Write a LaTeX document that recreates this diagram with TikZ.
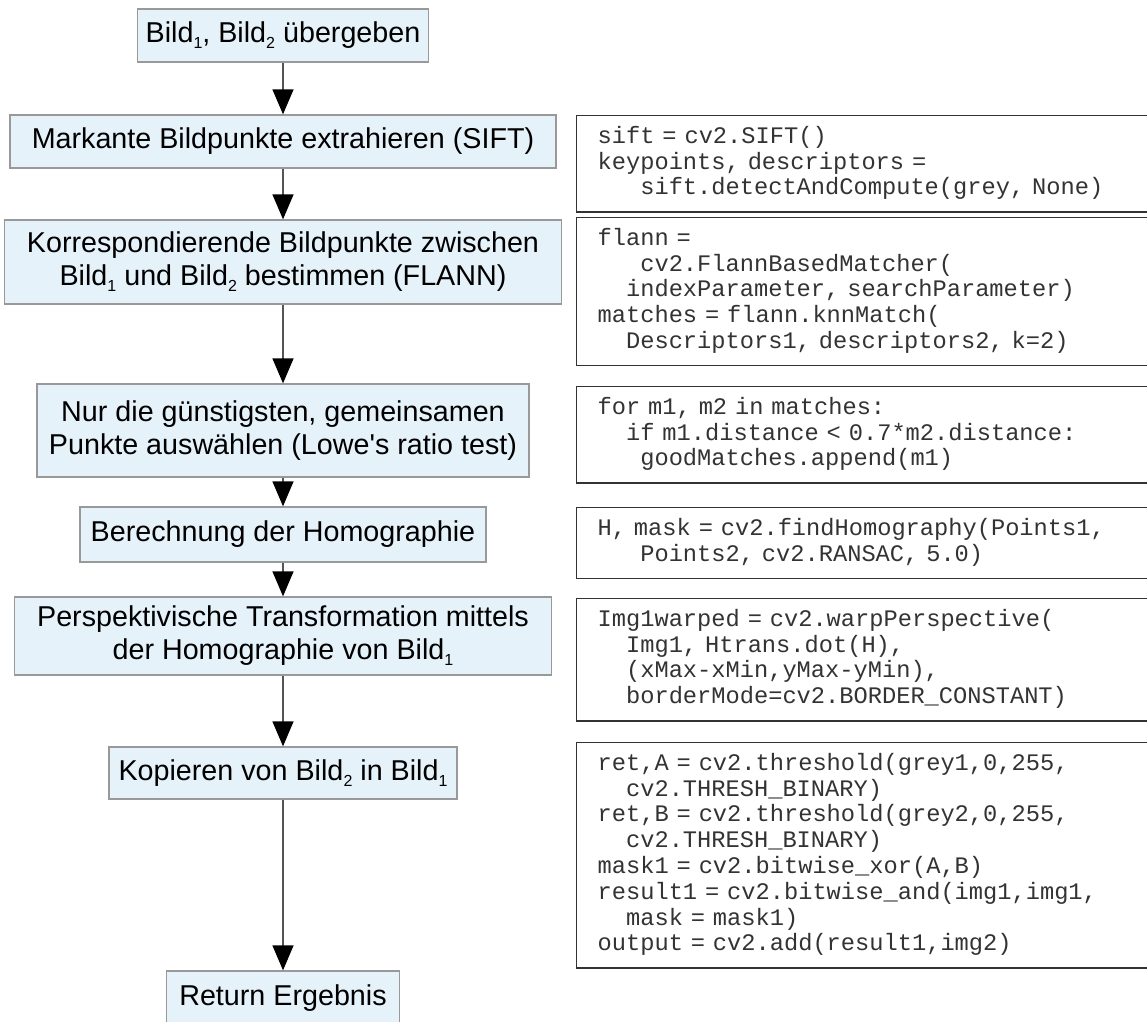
\documentclass[tikz,border=0pt]{standalone}
\usepackage{fontspec}
\setmainfont{Liberation Sans}[Ligatures=TeXOff]
\newfontfamily\codefont{Liberation Mono}[Ligatures=TeXOff]
\usetikzlibrary{arrows.meta}
\definecolor{boxfill}{HTML}{E6F2FA}
\definecolor{boxdraw}{HTML}{999999}
\definecolor{codedraw}{HTML}{333333}
\definecolor{arrowline}{HTML}{555555}
\newcommand\idx[1]{\raisebox{-6pt}{\fontsize{16}{16}\selectfont #1}}
\newcommand\cind[1]{\hspace*{#1}}
\newcommand\codesetup{\codefont\fontsize{23.7}{25.8}\selectfont
  \fontdimen2\font=0.6em\fontdimen3\font=0pt\fontdimen4\font=0pt\fontdimen7\font=0pt}
\tikzset{
  stepbox/.style={draw=boxdraw, fill=boxfill, line width=1.3pt, align=center,
    inner sep=0pt, font=\fontsize{28.7}{33}\selectfont},
  codebox/.style={draw=codedraw, fill=white, line width=1.3pt, anchor=north west,
    text width=560pt, inner xsep=21pt, inner ysep=9.5pt, align=left,
    font=\codesetup, text=black!80,
    execute at begin node=\strut, execute at end node=\strut},
  flow/.style={draw=arrowline, line width=1.4pt,
    -{Triangle[width=21pt,length=25pt,fill=black,color=black]}}
}
\begin{document}
\begin{tikzpicture}[x=1pt,y=-1pt]
\useasboundingbox (0,0) rectangle (1147,1021);
% left steps
\node[stepbox, minimum width=291pt, minimum height=53pt] (b1) at (283,35.5) {Bild\idx{1}, Bild\idx{2} übergeben};
\node[stepbox, minimum width=546pt, minimum height=53pt] (b2) at (283,141.5) {Markante Bildpunkte extrahieren (SIFT)};
\node[stepbox, minimum width=557pt, minimum height=84pt] (b3) at (283,262) {Korrespondierende Bildpunkte zwischen\\Bild\idx{1} und Bild\idx{2} bestimmen (FLANN)};
\node[stepbox, minimum width=492pt, minimum height=93pt] (b4) at (283,430.5) {Nur die günstigsten, gemeinsamen\\Punkte auswählen (Lowe's ratio test)};
\node[stepbox, minimum width=406pt, minimum height=55pt] (b5) at (283,534.5) {Berechnung der Homographie};
\node[stepbox, minimum width=537pt, minimum height=78pt] (b6) at (283,636) {Perspektivische Transformation mittels\\der Homographie von Bild\idx{1}};
\node[stepbox, minimum width=348pt, minimum height=52pt] (b7) at (283,773) {Kopieren von Bild\idx{2} in Bild\idx{1}};
\node[stepbox, minimum width=233pt, minimum height=54pt] (b8) at (283,998) {Return Ergebnis};
% arrows
\draw[flow] (b1.south) -- (b2.north);
\draw[flow] (b2.south) -- (b3.north);
\draw[flow] (b3.south) -- (b4.north);
\draw[flow] (b4.south) -- (b5.north);
\draw[flow] (b5.south) -- (b6.north);
\draw[flow] (b6.south) -- (b7.north);
\draw[flow] (b7.south) -- (b8.north);
% code boxes
\node[codebox] (c1) at (576,115) {sift = cv2.SIFT()\\keypoints, descriptors =\\\cind{1.8em}sift.detectAndCompute(grey, None)};
\node[codebox] (c2) at (576,217) {flann =\\\cind{1.8em}cv2.FlannBasedMatcher(\\\cind{1.2em}indexParameter, searchParameter)\\matches = flann.knnMatch(\\\cind{1.2em}Descriptors1, descriptors2, k=2)};
\node[codebox] (c3) at (576,386) {for m1, m2 in matches:\\\cind{1.2em}if m1.distance < 0.7*m2.distance:\\\cind{1.8em}goodMatches.append(m1)};
\node[codebox] (c4) at (576,507) {H, mask = cv2.findHomography(Points1,\\\cind{1.8em}Points2, cv2.RANSAC, 5.0)};
\node[codebox] (c5) at (576,598) {Img1warped = cv2.warpPerspective(\\\cind{1.2em}Img1, Htrans.dot(H),\\\cind{1.2em}(xMax-xMin,yMax-yMin),\\\cind{1.2em}borderMode=cv2.BORDER\_CONSTANT)};
\node[codebox] (c6) at (576,742) {ret,A = cv2.threshold(grey1,0,255,\\\cind{1.2em}cv2.THRESH\_BINARY)\\ret,B = cv2.threshold(grey2,0,255,\\\cind{1.2em}cv2.THRESH\_BINARY)\\mask1 = cv2.bitwise\_xor(A,B)\\result1 = cv2.bitwise\_and(img1,img1,\\\cind{1.2em}mask = mask1)\\output = cv2.add(result1,img2)};
\end{tikzpicture}
\end{document}
